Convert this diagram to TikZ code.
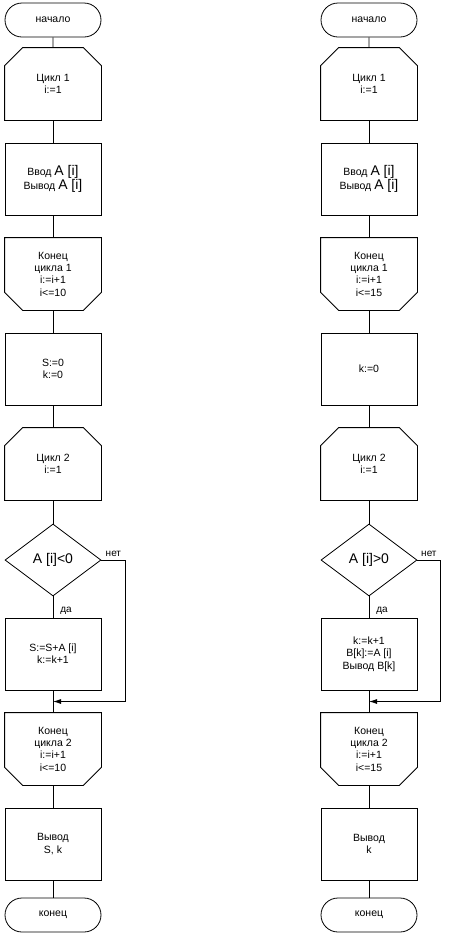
\documentclass[tikz,border=0pt]{standalone}
\usepackage{fontspec}
\setmainfont{Liberation Sans}
\usepackage{tikz}
\usetikzlibrary{shapes.geometric, shapes.misc, arrows.meta, positioning, calc}

\newcommand{\bigtxt}[1]{{\fontsize{14}{16}\selectfont #1}}

\begin{document}
\begin{tikzpicture}[node distance=95pt, >=Latex, line width=0.8pt]
    % Styles
    \tikzstyle{term} = [rounded rectangle, draw, minimum width=96pt, minimum height=34pt, inner sep=0pt, font=\fontsize{10.5}{12.3}\selectfont]
    \tikzstyle{block} = [rectangle, draw, minimum width=96pt, minimum height=72pt, inner sep=0pt, align=center, font=\fontsize{10.5}{12.3}\selectfont]
    \tikzstyle{loopbeg} = [block, draw=none, append after command={\pgfextra{\let\chnode\tikzlastnode
        \draw ([xshift=18pt]\chnode.north west) -- ([xshift=-18pt]\chnode.north east) -- ([yshift=-18pt]\chnode.north east)
          -- (\chnode.south east) -- (\chnode.south west) -- ([yshift=-18pt]\chnode.north west) -- cycle;}}]
    \tikzstyle{loopend} = [block, draw=none, append after command={\pgfextra{\let\chnode\tikzlastnode
        \draw (\chnode.north west) -- (\chnode.north east) -- ([yshift=18pt]\chnode.south east)
          -- ([xshift=-18pt]\chnode.south east) -- ([xshift=18pt]\chnode.south west) -- ([yshift=18pt]\chnode.south west) -- cycle;}}]
    \tikzstyle{decision} = [diamond, draw, minimum width=96pt, minimum height=72pt, inner sep=0pt, font=\fontsize{10.5}{12.3}\selectfont]
    \tikzstyle{line} = [draw]
    \tikzstyle{ret} = [draw, -{Latex[length=8pt, width=5pt]}]
    \tikzstyle{lbl} = [font=\fontsize{10}{12}\selectfont, inner sep=2pt]

    \useasboundingbox (0,0) rectangle (469pt,-935pt);

    % Nodes, left
    \node [term] (ls) at (53pt,-20pt) {начало};
    \node [loopbeg, below of=ls, node distance=64pt] (lc1) {Цикл 1\\i:=1};
    \node [block, below of=lc1] (lio) {Ввод \bigtxt{A [i]}\\Вывод \bigtxt{A [i]}};
    \node [loopend, below of=lio] (le1) {Конец\\цикла 1\\i:=i+1\\i<=10};
    \node [block, below of=le1] (linit) {S:=0\\k:=0};
    \node [loopbeg, below of=linit] (lc2) {Цикл 2\\i:=1};
    \node [decision, below of=lc2, node distance=96pt] (ldec) {\bigtxt{A [i]<0}};
    \node [block, below of=ldec, node distance=94pt] (lsum) {S:=S+A [i]\\k:=k+1};
    \node [loopend, below of=lsum] (le2) {Конец\\цикла 2\\i:=i+1\\i<=10};
    \node [block, below of=le2] (lout) {Вывод\\S, k};
    \node [term, below of=lout, node distance=71pt] (lend) {конец};

    % Nodes, right
    \node [term, right of=ls, node distance=316pt] (rs) {начало};
    \node [loopbeg, below of=rs, node distance=64pt] (rc1) {Цикл 1\\i:=1};
    \node [block, below of=rc1] (rio) {Ввод \bigtxt{A [i]}\\Вывод \bigtxt{A [i]}};
    \node [loopend, below of=rio] (re1) {Конец\\цикла 1\\i:=i+1\\i<=15};
    \node [block, below of=re1] (rinit) {k:=0};
    \node [loopbeg, below of=rinit] (rc2) {Цикл 2\\i:=1};
    \node [decision, below of=rc2, node distance=96pt] (rdec) {\bigtxt{A [i]>0}};
    \node [block, below of=rdec, node distance=94pt] (rcnt) {k:=k+1\\B[k]:=A [i]\\Вывод B[k]};
    \node [loopend, below of=rcnt] (re2) {Конец\\цикла 2\\i:=i+1\\i<=15};
    \node [block, below of=re2] (rout) {Вывод\\k};
    \node [term, below of=rout, node distance=71pt] (rend) {конец};

    \coordinate (ljoin) at ($(lsum.south)!0.5!(le2.north)$);
    \coordinate (rjoin) at ($(rcnt.south)!0.5!(re2.north)$);

    % Paths, left
    \path [line] (ls) -- (lc1);
    \path [line] (lc1) -- (lio);
    \path [line] (lio) -- (le1);
    \path [line] (le1) -- (linit);
    \path [line] (linit) -- (lc2);
    \path [line] (lc2) -- (ldec);
    \path [line] (ldec) -- node[lbl, pos=0.7, right=5pt] {да} (lsum);
    \path [line] (lsum) -- (le2);
    \path [line] (le2) -- (lout);
    \path [line] (lout) -- (lend);
    \path [ret] (ldec.east) -- node[lbl, above=1pt] {нет} ++(24pt,0) |- (ljoin);

    % Paths, right
    \path [line] (rs) -- (rc1);
    \path [line] (rc1) -- (rio);
    \path [line] (rio) -- (re1);
    \path [line] (re1) -- (rinit);
    \path [line] (rinit) -- (rc2);
    \path [line] (rc2) -- (rdec);
    \path [line] (rdec) -- node[lbl, pos=0.7, right=5pt] {да} (rcnt);
    \path [line] (rcnt) -- (re2);
    \path [line] (re2) -- (rout);
    \path [line] (rout) -- (rend);
    \path [ret] (rdec.east) -- node[lbl, above=1pt] {нет} ++(23pt,0) |- (rjoin);
\end{tikzpicture}
\end{document}
